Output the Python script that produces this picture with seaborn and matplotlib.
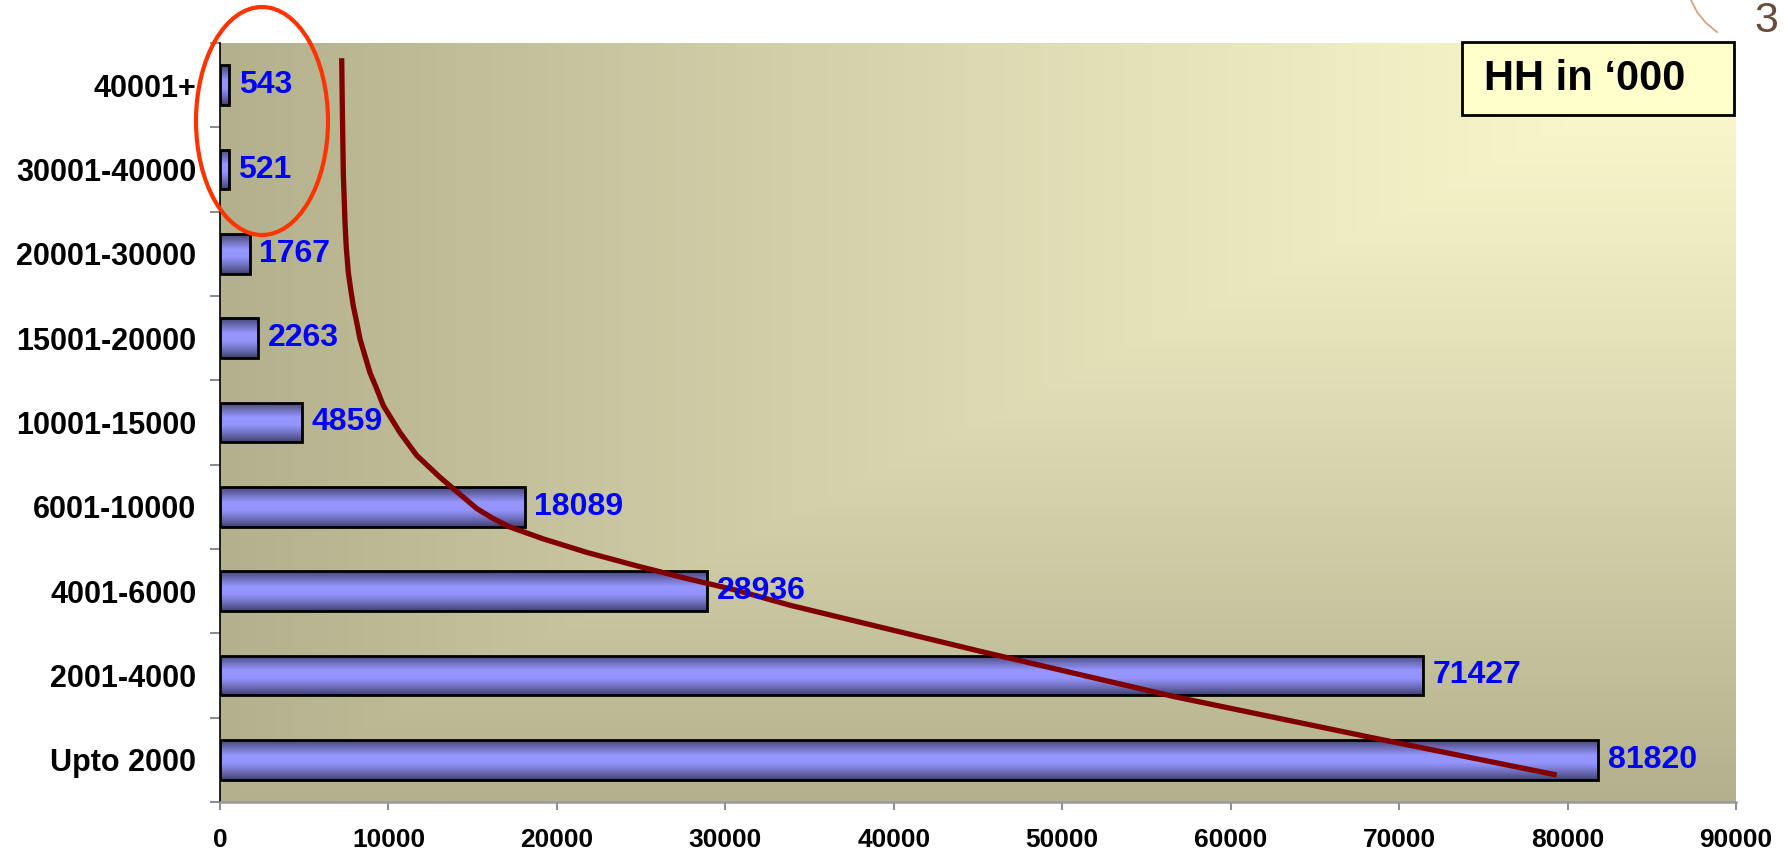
import numpy as np
import pandas as pd
import matplotlib
matplotlib.use("Agg")
import matplotlib.pyplot as plt
from matplotlib.patches import Ellipse, Rectangle
from matplotlib.colors import LinearSegmentedColormap, to_rgb
from matplotlib.lines import Line2D
import seaborn as sns

# ---------------- data ----------------
categories = ["40001+", "30001-40000", "20001-30000", "15001-20000", "10001-15000",
              "6001-10000", "4001-6000", "2001-4000", "Upto 2000"]
households = [543, 521, 1767, 2263, 4859, 18089, 28936, 71427, 81820]
x_ticks = [0, 10000, 20000, 30000, 40000, 50000, 60000, 70000, 80000, 90000]

# hand drawn trend curve (x value, category position; 0 = top row)
trend_x = [7225, 7261, 7320, 7421, 7498, 7617, 7759, 7914, 8115, 8311, 8608,
           8905, 9303, 9695, 10686, 11678, 13061, 14444, 15240, 16225, 17216,
           18208, 19193, 21770, 24738, 27706, 30675, 33898, 45279, 56636,
           67975, 79350]
trend_pos = [-0.32, 0.25, 1.04, 1.63, 1.93, 2.22, 2.42, 2.62, 2.81, 3.01, 3.21,
             3.41, 3.60, 3.80, 4.12, 4.39, 4.65, 4.885, 5.02, 5.14, 5.24,
             5.31, 5.38, 5.54, 5.70, 5.85, 5.99, 6.17, 6.72, 7.25,
             7.72, 8.18]

box_text = "HH in \u2018000"
page_mark = "3"

# ---------------- style ----------------
plt.rcParams['font.family'] = ['Liberation Sans', 'DejaVu Sans']
plt.rcParams['font.weight'] = 'bold'

W, H = 1788, 856
fig = plt.figure(figsize=(W / 100, H / 100), dpi=100)
fig.patch.set_facecolor('white')
ax = fig.add_axes([220 / W, 1 - 802 / H, 1516 / W, 759 / H])

df = pd.DataFrame({"band": categories, "hh": households})

sns.barplot(data=df, x="hh", y="band", orient="h", color="#9999ff",
            saturation=1, edgecolor="black", linewidth=2.0, width=0.47,
            ax=ax, zorder=3)

XMAX = 90000
YLIM = (len(categories) - 0.5, -0.5)

# background gradient (light at top-right corner)
light = np.array(to_rgb("#fdfbcf"))
dark = np.array(to_rgb("#b3b18d"))
gh, gw = 300, 600
u = np.linspace(0, 1, gw)[None, :]
v = np.linspace(0, 1, gh)[:, None]
f = np.maximum(1 - u, v)
f = np.clip(f, 0, 1) ** 1.15
bg = light[None, None, :] * (1 - f[..., None]) + dark[None, None, :] * f[..., None]
ax.imshow(bg, extent=[0, XMAX, YLIM[0], YLIM[1]], origin='upper',
          aspect='auto', zorder=0, interpolation='bilinear')

# bar shading (vertical cylinder look), clipped to each seaborn bar
bar_cmap = LinearSegmentedColormap.from_list(
    "cyl", [(0.0, "#47477a"), (0.18, "#6d6db8"), (0.38, "#9696ff"),
            (0.58, "#9494fc"), (0.82, "#6a6ab4"), (1.0, "#424272")])
grad = np.linspace(0, 1, 64)[:, None]
for p in ax.patches:
    x0, y0 = p.get_x(), p.get_y()
    w, h = p.get_width(), p.get_height()
    im = ax.imshow(grad, cmap=bar_cmap, extent=[x0, x0 + w, y0 + h, y0],
                   origin='upper', aspect='auto', zorder=2,
                   interpolation='bilinear')
    im.set_clip_path(p)
    p.set_facecolor('none')

# value labels
ax.bar_label(ax.containers[0], labels=[str(v) for v in households], padding=7,
             color="#0000ff", fontsize=23, fontweight='bold', zorder=5)

# trend curve
ax.plot(trend_x, trend_pos, color="#800000", lw=3.8, zorder=4,
        solid_capstyle='butt', solid_joinstyle='round')

ax.set_xlim(0, XMAX)
ax.set_ylim(*YLIM)
ax.set_xlabel("")
ax.set_ylabel("")

ax.set_xticks(x_ticks)
ax.set_xticklabels([str(t) for t in x_ticks], fontsize=19, fontweight='bold')
ax.tick_params(axis='x', direction='out', length=6, width=1.2,
               color='#777777', pad=13)
ax.set_yticks(range(len(categories)))
ax.set_yticklabels(categories, fontsize=22, fontweight='bold')
ax.tick_params(axis='y', which='major', length=0, pad=17)
ax.set_yticks(np.arange(-0.5, len(categories), 1.0), minor=True)
ax.tick_params(axis='y', which='minor', length=7, width=1.2, color='#777777')

for s in ['top', 'right']:
    ax.spines[s].set_visible(False)
ax.spines['left'].set_color('black')
ax.spines['left'].set_linewidth(1.2)
ax.spines['bottom'].set_color('#999999')
ax.spines['bottom'].set_linewidth(1.8)

# "HH in '000" box anchored at the top-right of the plot
fig.patches.append(Rectangle((1462 / W, 1 - 115 / H), 272 / W, 73 / H,
                             transform=fig.transFigure, facecolor="#ffffcc",
                             edgecolor="black", lw=2, zorder=10))
fig.text(1484 / W, 1 - 79 / H, box_text, fontsize=30, fontweight='bold',
         va='center', ha='left', color='black', zorder=11)

# red highlight ellipse around the two smallest bars
fig.patches.append(Ellipse((262 / W, 1 - 121 / H), 132 / W, 228 / H,
                           transform=fig.transFigure, fill=False,
                           edgecolor="#ff3300", lw=3, zorder=12))

# slide decoration at top-right corner
fig.lines.append(Line2D([1691 / W, 1697 / W, 1706 / W, 1717 / W],
                        [1.0, 1 - 12 / H, 1 - 23 / H, 1 - 32 / H],
                        transform=fig.transFigure, color="#d6a47e", lw=1.3))
fig.text(1754 / W, 1 - 1 / H, page_mark, fontsize=31, fontweight='normal',
         color="#6b4c3b", va='top', ha='left')

fig.savefig("out.png", dpi=100, facecolor='white')
